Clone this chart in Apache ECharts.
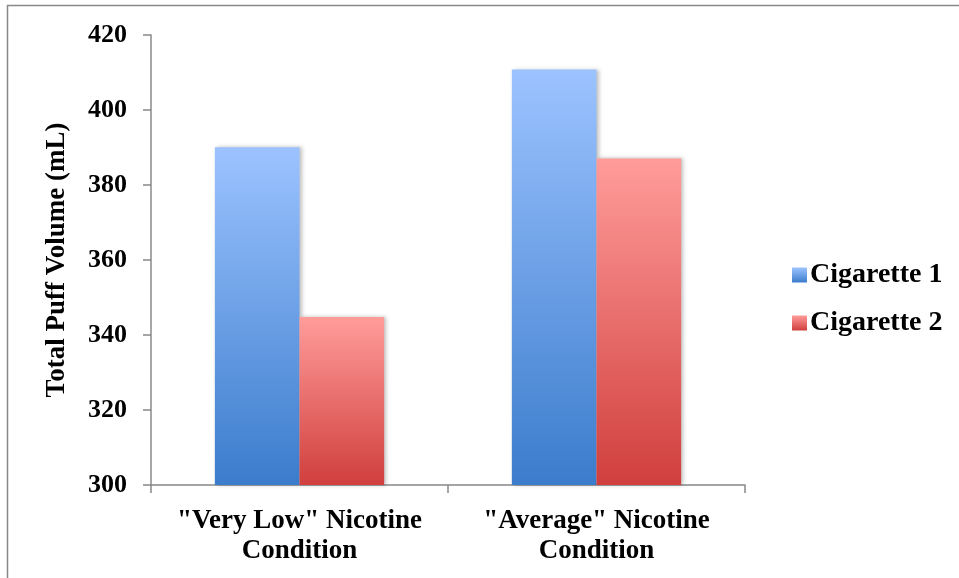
<!DOCTYPE html>
<html>
<head>
<meta charset="utf-8">
<script src="https://cdn.jsdelivr.net/npm/echarts@6/dist/echarts.min.js"></script>
<style>html,body{margin:0;padding:0;background:#fff}#c{width:959px;height:578px}</style>
</head>
<body>
<div id="c"></div>
<script>
const categories = ['"Very Low" Nicotine\nCondition', '"Average" Nicotine\nCondition'];
const seriesNames = ['Cigarette 1', 'Cigarette 2'];
const cig1 = [390.1, 410.8];
const cig2 = [344.8, 387.1];
const yTicks = { min: 300, max: 420, interval: 20 };

const font = '"Liberation Serif", "DejaVu Serif", serif';
const blueGrad = new echarts.graphic.LinearGradient(0, 0, 0, 1, [
  { offset: 0, color: '#9cc3ff' }, { offset: 1, color: '#3b7ccc' }]);
const redGrad = new echarts.graphic.LinearGradient(0, 0, 0, 1, [
  { offset: 0, color: '#ff9c9a' }, { offset: 1, color: '#d03f3d' }]);

const chart = echarts.init(document.getElementById('c'));
chart.setOption({
  animation: false,
  backgroundColor: '#fff',
  grid: { left: 151, right: 214, top: 35, bottom: 93 },
  graphic: [
    { type: 'line', shape: { x1: 7, y1: 5.5, x2: 959, y2: 5.5 }, style: { stroke: '#888', lineWidth: 1.5 } },
    { type: 'line', shape: { x1: 7.5, y1: 5, x2: 7.5, y2: 578 }, style: { stroke: '#888', lineWidth: 1.5 } }
  ],
  legend: {
    orient: 'vertical', left: 787, top: 256, itemGap: 20,
    itemWidth: 15, itemHeight: 15, icon: 'rect',
    textStyle: { fontFamily: font, fontWeight: 'bold', fontSize: 28, color: '#000', padding: [0, 0, 0, -2] },
    data: seriesNames
  },
  xAxis: {
    type: 'category', data: categories,
    axisLine: { lineStyle: { color: '#888', width: 1.5 } },
    axisTick: { show: true, length: 8, lineStyle: { color: '#888', width: 1.5 } },
    axisLabel: { interval: 0, hideOverlap: false, fontFamily: font, fontWeight: 'bold', fontSize: 27, color: '#000', margin: 21, lineHeight: 30 }
  },
  yAxis: {
    type: 'value', min: yTicks.min, max: yTicks.max, interval: yTicks.interval,
    name: 'Total Puff Volume (mL)', nameLocation: 'middle', nameGap: 80, nameRotate: 90,
    nameTextStyle: { fontFamily: font, fontWeight: 'bold', fontSize: 27, color: '#000' },
    splitLine: { show: false },
    axisLine: { show: true, lineStyle: { color: '#888', width: 1.5 } },
    axisTick: { show: true, length: 8, lineStyle: { color: '#888', width: 1.5 } },
    axisLabel: { fontFamily: font, fontWeight: 'bold', fontSize: 26, color: '#000', margin: 24 }
  },
  series: [
    { name: seriesNames[0], type: 'bar', data: cig1, barGap: '0%', barCategoryGap: '43%',
      itemStyle: { color: blueGrad, shadowBlur: 4, shadowColor: 'rgba(0,0,0,0.25)', shadowOffsetX: 2 } },
    { name: seriesNames[1], type: 'bar', data: cig2, barGap: '0%', barCategoryGap: '43%',
      itemStyle: { color: redGrad, shadowBlur: 4, shadowColor: 'rgba(0,0,0,0.25)', shadowOffsetX: 2 } }
  ]
});
</script>
</body>
</html>
